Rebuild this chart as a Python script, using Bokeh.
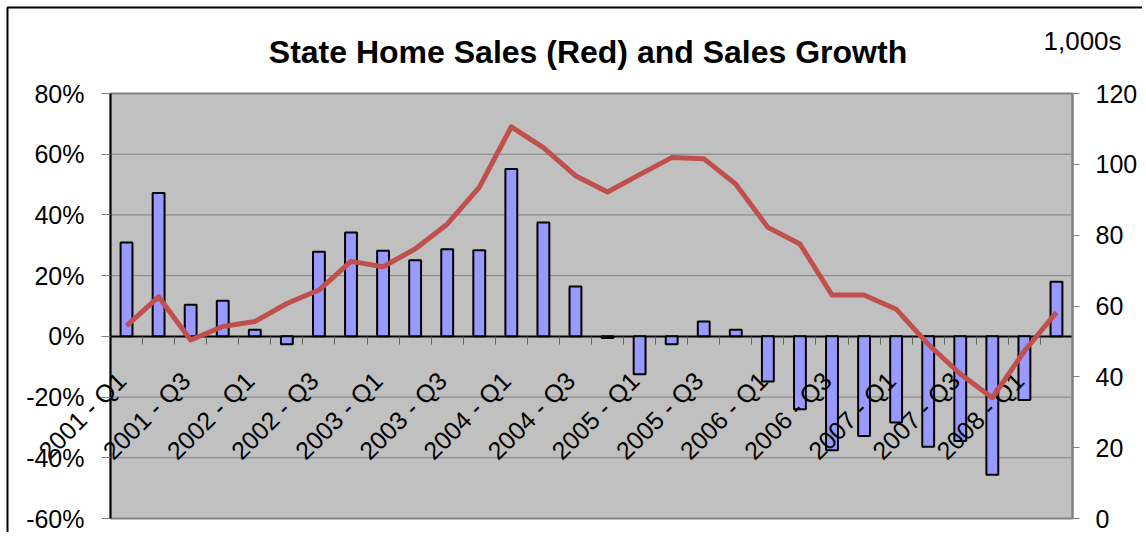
import math
from bokeh.plotting import figure
from bokeh.models import (Range1d, LinearAxis, NumeralTickFormatter, FixedTicker)
from bokeh.core.properties import value
from bokeh.embed import file_html
from bokeh.resources import INLINE

# ---- data ----
years = ["2001", "2002", "2003", "2004", "2005", "2006", "2007", "2008"]
quarters = [f"{y} - Q{q}" for y in years for q in (1, 2, 3, 4)][:30]
growth_pct = [30.9, 47.2, 10.4, 11.7, 2.2, -2.6, 27.9, 34.2, 28.2, 25.1,
              28.7, 28.4, 55.1, 37.5, 16.4, -0.5, -12.5, -2.6, 4.9, 2.2,
              -14.9, -24.0, -37.5, -32.8, -28.4, -36.4, -34.5, -45.6, -21.0, 18.0]
sales_k = [54.4, 62.6, 50.4, 54.2, 55.6, 60.7, 64.5, 72.6, 71.1, 76.1,
           83.1, 93.5, 110.6, 104.7, 96.8, 92.2, 97.1, 101.9, 101.6, 94.4,
           82.2, 77.5, 63.1, 63.1, 59.1, 49.2, 40.8, 34.1, 47.3, 58.2]
left_ticks = [-0.6, -0.4, -0.2, 0.0, 0.2, 0.4, 0.6, 0.8]
grid_ticks = [-0.4, -0.2, 0.2, 0.4, 0.6]
right_ticks = [0, 20, 40, 60, 80, 100, 120]
title_text = "State Home Sales (Red) and Sales Growth"
unit_text = "1,000s"
label_every = 2

# ---- layout (pixels) ----
FONT = "Liberation Sans"
W, H = 1142, 532
PX_L, PX_R, PX_T, PX_B = 110, 1072, 93, 518
L_MIN, L_MAX = left_ticks[0], left_ticks[-1]
R_MIN, R_MAX = right_ticks[0], right_ticks[-1]
n = len(quarters)

kx = (PX_R - PX_L) / n
x_start, x_end = -PX_L / kx, (W - PX_L) / kx
ky = (PX_B - PX_T) / (L_MAX - L_MIN)
y_top, y_bot = L_MAX + PX_T / ky, L_MIN - (H - PX_B) / ky
kr = (PX_B - PX_T) / (R_MAX - R_MIN)
r_top, r_bot = R_MAX + PX_T / kr, R_MIN - (H - PX_B) / kr


def dx(px):
    return x_start + px / kx


def dy(py):
    return y_top - py / ky


centers = [i + 0.5 for i in range(n)]

p = figure(width=W, height=H, output_backend="svg", toolbar_location=None,
           x_range=Range1d(x_start, x_end), y_range=Range1d(y_bot, y_top),
           x_axis_location=None, y_axis_location=None,
           min_border=0, min_border_left=0, min_border_right=0,
           min_border_top=0, min_border_bottom=0)
p.extra_y_ranges = {"sales": Range1d(r_bot, r_top)}
p.background_fill_color = "white"
p.border_fill_color = "white"
p.outline_line_color = None
p.grid.visible = False

# plot area
p.quad(left=0, right=n, bottom=L_MIN, top=L_MAX, fill_color="#C0C0C0",
       line_color="#808080", line_width=2, level="image")

# horizontal gridlines
p.segment(x0=[0] * len(grid_ticks), x1=[n] * len(grid_ticks), y0=grid_ticks,
          y1=grid_ticks, line_color="#808080", line_width=1, level="underlay")

# left value axis
ya = LinearAxis(fixed_location=0, bounds=(L_MIN, L_MAX),
                ticker=FixedTicker(ticks=left_ticks),
                formatter=NumeralTickFormatter(format="0%"))
ya.axis_line_color = "black"
ya.axis_line_width = 2
ya.major_tick_line_color = "#808080"
ya.major_tick_in = 0
ya.major_tick_out = 9
ya.minor_tick_line_color = None
ya.major_label_standoff = 17
ya.major_label_text_font = FONT
ya.major_label_text_font_size = "25px"
ya.major_label_text_color = "black"
p.add_layout(ya, "left")

# right axis (sales, thousands)
ax2 = LinearAxis(y_range_name="sales", fixed_location=n, bounds=(R_MIN, R_MAX),
                 ticker=FixedTicker(ticks=right_ticks))
ax2.axis_line_color = "#808080"
ax2.axis_line_width = 2
ax2.major_tick_line_color = "#808080"
ax2.major_tick_in = 0
ax2.major_tick_out = 7
ax2.minor_tick_line_color = None
ax2.major_label_standoff = 16
ax2.major_label_text_font = FONT
ax2.major_label_text_font_size = "25px"
ax2.major_label_text_color = "black"
p.add_layout(ax2, "right")

# category axis at 0%
xa = LinearAxis(fixed_location=0, bounds=(0, n),
                ticker=FixedTicker(ticks=list(range(1, n))))
xa.axis_line_color = "black"
xa.axis_line_width = 2
xa.major_tick_line_color = "#606060"
xa.major_tick_in = 0
xa.major_tick_out = 8
xa.minor_tick_line_color = None
xa.major_label_text_color = None
xa.level = "underlay"
p.add_layout(xa, "below")

# bars
p.vbar(x=centers, top=[g / 100 for g in growth_pct], bottom=0, width=0.37,
       fill_color="#9999FF", line_color="black", line_width=2)

# category labels (rotated)
lab_idx = list(range(0, n, label_every))
p.text(x=[centers[i] - 5 / kx for i in lab_idx],
       y=[-40 / ky] * len(lab_idx),
       text=[quarters[i] for i in lab_idx],
       angle=math.pi / 4, text_align="right", text_baseline="alphabetic",
       text_font=value(FONT), text_font_size=value("25px"), text_color="black")

# sales line
p.line(x=centers, y=sales_k, y_range_name="sales", line_color="#C0504D",
       line_width=5, line_join="round")

# title and unit label
p.text(x=[dx(587.5)], y=[dy(51)], text=[title_text], text_align="center",
       text_baseline="alphabetic", text_font=value(FONT),
       text_font_style="bold", text_font_size=value("32px"), text_color="black")
p.text(x=[dx(1043)], y=[dy(40)], text=[unit_text], text_align="left",
       text_baseline="alphabetic", text_font=value(FONT),
       text_font_size=value("26px"), text_color="black")

# outer chart frame (left and top edges visible)
p.quad(left=dx(7), right=x_end + 5, top=dy(7), bottom=y_bot - 1,
       fill_color=None, line_color="black", line_width=2)

open("out.html", "w").write(file_html(p, INLINE))
